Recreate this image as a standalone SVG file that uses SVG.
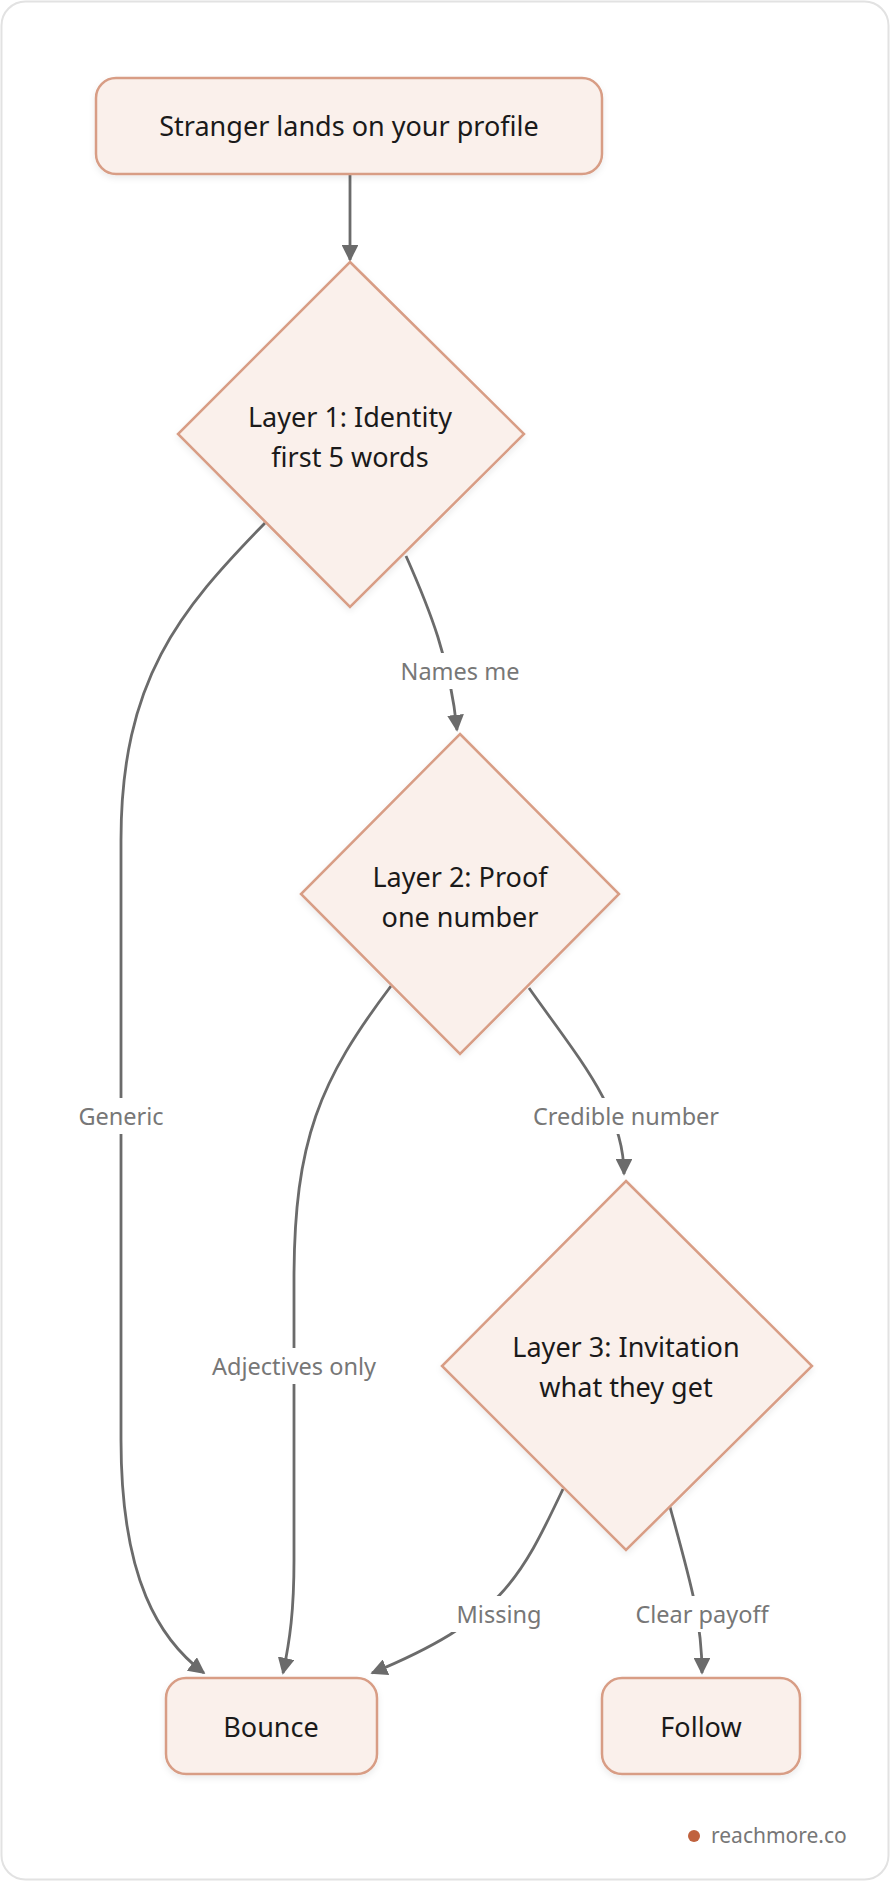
<svg xmlns="http://www.w3.org/2000/svg" width="890" height="1882" viewBox="0 0 890 1882">
<style>
.node{fill:#faf0eb;stroke:#d89d85;stroke-width:2.5}
.nt{font-family:"Noto Sans","Open Sans",sans-serif;font-size:27px;fill:#1a1a1a;text-anchor:middle}
.edge{fill:none;stroke:#6b6b6b;stroke-width:2.8}
.lbg{fill:#ffffff}
.lt{font-family:"Noto Sans","Open Sans",sans-serif;font-size:23.5px;fill:#777;text-anchor:middle}
</style>
<defs>
<marker id="arr" viewBox="0 0 10 10" refX="9" refY="5" markerWidth="6" markerHeight="6" orient="auto" markerUnits="strokeWidth">
<path d="M0,0 L10,5 L0,10 z" fill="#6b6b6b"/>
</marker>
<filter id="sh" x="-10%" y="-10%" width="120%" height="130%"><feDropShadow dx="0" dy="3" stdDeviation="3" flood-color="#000" flood-opacity="0.08"/></filter>
</defs>
<rect x="1.5" y="1.5" width="887" height="1878" rx="24" fill="#fff" stroke="#e2e2e2" stroke-width="2"/>
<g id="connectors">
<path class="edge" d="M350,174 L350,260" marker-end="url(#arr)"/>
<path class="edge" d="M265,523 C180,610 121,680 121,840 L121,1440 C121,1580 160,1640 204,1673" marker-end="url(#arr)"/>
<path class="edge" d="M406,556 C430,610 450,660 457,730" marker-end="url(#arr)"/>
<path class="edge" d="M391,986 C320,1080 294,1140 294,1280 L294,1560 C294,1610 290,1640 283,1673" marker-end="url(#arr)"/>
<path class="edge" d="M529,988 C580,1060 624,1110 624,1174" marker-end="url(#arr)"/>
<path class="edge" d="M563,1489 C520,1580 500,1620 372,1673" marker-end="url(#arr)"/>
<path class="edge" d="M670,1507 C690,1580 702,1620 702,1673" marker-end="url(#arr)"/>
<g>
<rect class="lbg" x="70" y="1098" width="102" height="36"/><text class="lt" x="121" y="1125">Generic</text>
<rect class="lbg" x="392" y="653" width="136" height="36"/><text class="lt" x="460" y="680">Names me</text>
<rect class="lbg" x="198" y="1348" width="192" height="36"/><text class="lt" x="294" y="1375">Adjectives only</text>
<rect class="lbg" x="522" y="1098" width="208" height="36"/><text class="lt" x="626" y="1125">Credible number</text>
<rect class="lbg" x="446" y="1596" width="106" height="36"/><text class="lt" x="499" y="1623">Missing</text>
<rect class="lbg" x="622" y="1596" width="160" height="36"/><text class="lt" x="702" y="1623">Clear payoff</text>
</g>
</g>
<g id="start"><rect class="node" filter="url(#sh)" x="96" y="78" width="506" height="96" rx="20"/><text class="nt" x="349" y="136">Stranger lands on your profile</text></g>
<g id="layer1"><polygon class="node" filter="url(#sh)" points="350,262 524,434 350,607 178,434"/><text class="nt" x="350" y="427">Layer 1: Identity</text><text class="nt" x="350" y="467">first 5 words</text></g>
<g id="layer2"><polygon class="node" filter="url(#sh)" points="460,734 619,894 460,1054 301,894"/><text class="nt" x="460" y="887">Layer 2: Proof</text><text class="nt" x="460" y="927">one number</text></g>
<g id="layer3"><polygon class="node" filter="url(#sh)" points="626,1181 812,1366 626,1550 442,1366"/><text class="nt" x="626" y="1357">Layer 3: Invitation</text><text class="nt" x="626" y="1397">what they get</text></g>
<g id="bounce"><rect class="node" filter="url(#sh)" x="166" y="1678" width="211" height="96" rx="20"/><text class="nt" x="271" y="1737">Bounce</text></g>
<g id="follow"><rect class="node" filter="url(#sh)" x="602" y="1678" width="198" height="96" rx="20"/><text class="nt" x="701" y="1737">Follow</text></g>
<g id="watermark"><circle cx="694" cy="1836" r="6" fill="#c0623e"/><text x="711" y="1843" font-family="Noto Sans, sans-serif" font-size="21" fill="#777">reachmore.co</text></g>
</svg>
